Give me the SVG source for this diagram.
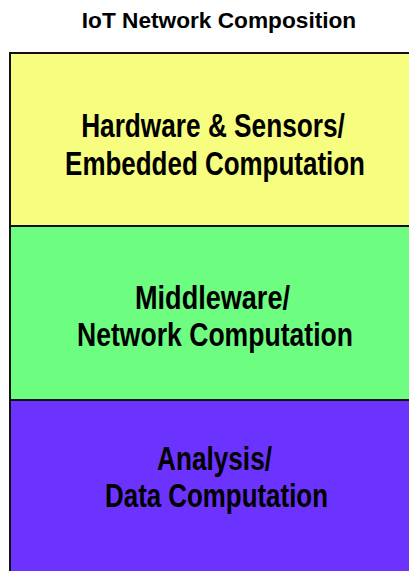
<svg xmlns="http://www.w3.org/2000/svg" width="409" height="571" viewBox="0 0 409 571">
<style>
text{font-family:"Liberation Sans",Arial,sans-serif;font-weight:bold;fill:#000;text-anchor:middle}
.t{font-size:22px}
.l{font-size:28px}
.edge{stroke:#111;stroke-width:2;fill:none}
</style>
<rect width="409" height="571" fill="#fff"/>
<text class="t" transform="translate(219 28) scale(1.03 1)">IoT Network Composition</text>
<g id="hardware">
<rect x="10" y="53" width="399" height="173" fill="#f6fd7f"/>
<text class="l" transform="translate(213 137) scale(0.937 1.17)">Hardware &amp; Sensors/</text>
<text class="l" transform="translate(215 175) scale(0.927 1.17)">Embedded Computation</text>
</g>
<g id="middleware">
<rect x="10" y="226" width="399" height="174" fill="#6dfd80"/>
<text class="l" transform="translate(212.5 309) scale(0.967 1.17)">Middleware/</text>
<text class="l" transform="translate(215 346) scale(0.949 1.17)">Network Computation</text>
</g>
<g id="analysis">
<rect x="10" y="400" width="399" height="171" fill="#6b33fd"/>
<text class="l" transform="translate(214.5 470) scale(0.935 1.17)">Analysis/</text>
<text class="l" transform="translate(216.5 507) scale(0.925 1.17)">Data Computation</text>
</g>
<g id="connectors">
<path class="edge" d="M409 53 H10 V571 M10 226 H409 M10 400 H409"/>
</g>
</svg>
